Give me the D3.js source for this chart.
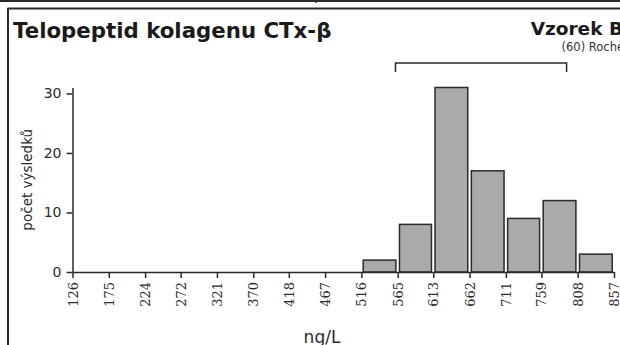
<!DOCTYPE html>
<html>
<head>
<meta charset="utf-8">
<script src="https://cdn.jsdelivr.net/npm/d3@7.9.0/dist/d3.min.js"></script>
<style>
  html, body { margin: 0; padding: 0; background: #fff; }
  svg { display: block; font-family: "DejaVu Sans", sans-serif; }
</style>
</head>
<body>
<svg id="chart" width="620" height="345"></svg>
<script>
// bin edges (ng/L) used as tick labels
const binEdges = [126, 175, 224, 272, 321, 370, 418, 467, 516, 565, 613, 662, 711, 759, 808, 857];
// result counts per bin (between consecutive edges)
const counts = [0, 0, 0, 0, 0, 0, 0, 0, 2, 8, 31, 17, 9, 12, 3];
const yTicks = [0, 10, 20, 30];
const refRange = [562, 793];

const title = 'Telopeptid kolagenu CTx-β';
const sampleName = 'Vzorek B';
const method = '(60) Roche';
const yLabel = 'počet výsledků';
const xLabel = 'ng/L';

const svg = d3.select('#chart');
const ink = '#2a2a2a';

// frame remnants
svg.append('line').attr('x1', 0).attr('x2', 620).attr('y1', 1).attr('y2', 1)
  .attr('stroke', ink).attr('stroke-width', 2);
svg.append('line').attr('x1', 316).attr('x2', 316).attr('y1', 0).attr('y2', 3)
  .attr('stroke', ink).attr('stroke-width', 1.5);
svg.append('line').attr('x1', 7.5).attr('x2', 620).attr('y1', 8.5).attr('y2', 8.5)
  .attr('stroke', ink).attr('stroke-width', 2);
svg.append('line').attr('x1', 8).attr('x2', 8).attr('y1', 8).attr('y2', 345)
  .attr('stroke', ink).attr('stroke-width', 2);

// headings
svg.append('text').attr('x', 13).attr('y', 38)
  .attr('font-size', 21.3).attr('font-weight', 'bold').attr('fill', '#1a1a1a')
  .text(title);
svg.append('text').attr('x', 623).attr('y', 35)
  .attr('text-anchor', 'end')
  .attr('font-size', 18.5).attr('font-weight', 'bold').attr('fill', '#1a1a1a')
  .text(sampleName);
svg.append('text').attr('x', 624).attr('y', 51)
  .attr('text-anchor', 'end')
  .attr('font-size', 11.5).attr('fill', '#333')
  .text(method);

const x = d3.scaleLinear()
  .domain([binEdges[0], binEdges[binEdges.length - 1]])
  .range([72.5, 614]);

const y = d3.scaleLinear()
  .domain([0, d3.max(counts)])
  .range([272, 87.5]);

// bars
const bins = counts.map((c, i) => ({ x0: binEdges[i], x1: binEdges[i + 1], count: c }));
svg.append('g')
  .selectAll('rect')
  .data(bins.filter((d) => d.count > 0))
  .join('rect')
  .attr('x', (d) => x(d.x0) + 1.8)
  .attr('width', (d) => x(d.x1) - x(d.x0) - 3.6)
  .attr('y', (d) => y(d.count))
  .attr('height', (d) => y(0) - y(d.count))
  .attr('fill', '#aaaaaa')
  .attr('stroke', ink)
  .attr('stroke-width', 1.5);

// y axis
const yAxis = svg.append('g')
  .attr('transform', `translate(${x(binEdges[0])},0)`)
  .call(d3.axisLeft(y).tickValues(yTicks).tickSize(6).tickSizeOuter(0).tickPadding(5));
yAxis.selectAll('text')
  .attr('font-size', 14)
  .attr('font-family', '"DejaVu Sans", sans-serif')
  .attr('fill', '#2a2a2a');

// x axis
const xAxis = svg.append('g')
  .attr('transform', `translate(0,${y(0)})`)
  .call(d3.axisBottom(x).tickValues(binEdges).tickFormat(d3.format('d')).tickSize(6).tickSizeOuter(0));
xAxis.selectAll('text')
  .attr('font-size', 13)
  .attr('font-family', '"DejaVu Serif", serif')
  .attr('fill', '#2a2a2a')
  .attr('text-anchor', 'end')
  .attr('transform', 'rotate(-90)')
  .attr('x', -10)
  .attr('y', 0)
  .attr('dy', '0.35em');

svg.selectAll('.domain, .tick line')
  .attr('stroke', ink)
  .attr('stroke-width', 1.5);

// axis titles
svg.append('text')
  .attr('transform', `translate(32,${(y(0) + y(31)) / 2}) rotate(-90)`)
  .attr('text-anchor', 'middle')
  .attr('font-size', 13.5)
  .attr('fill', '#2a2a2a')
  .text(yLabel);
svg.append('text')
  .attr('x', 322).attr('y', 343)
  .attr('text-anchor', 'middle')
  .attr('font-size', 17)
  .attr('fill', '#2a2a2a')
  .text(xLabel);

// reference range bracket
const by = 63;
svg.append('path')
  .attr('d', `M${x(refRange[0])},${by + 9}V${by}H${x(refRange[1])}V${by + 9}`)
  .attr('fill', 'none')
  .attr('stroke', ink)
  .attr('stroke-width', 1.5);
</script>
</body>
</html>
